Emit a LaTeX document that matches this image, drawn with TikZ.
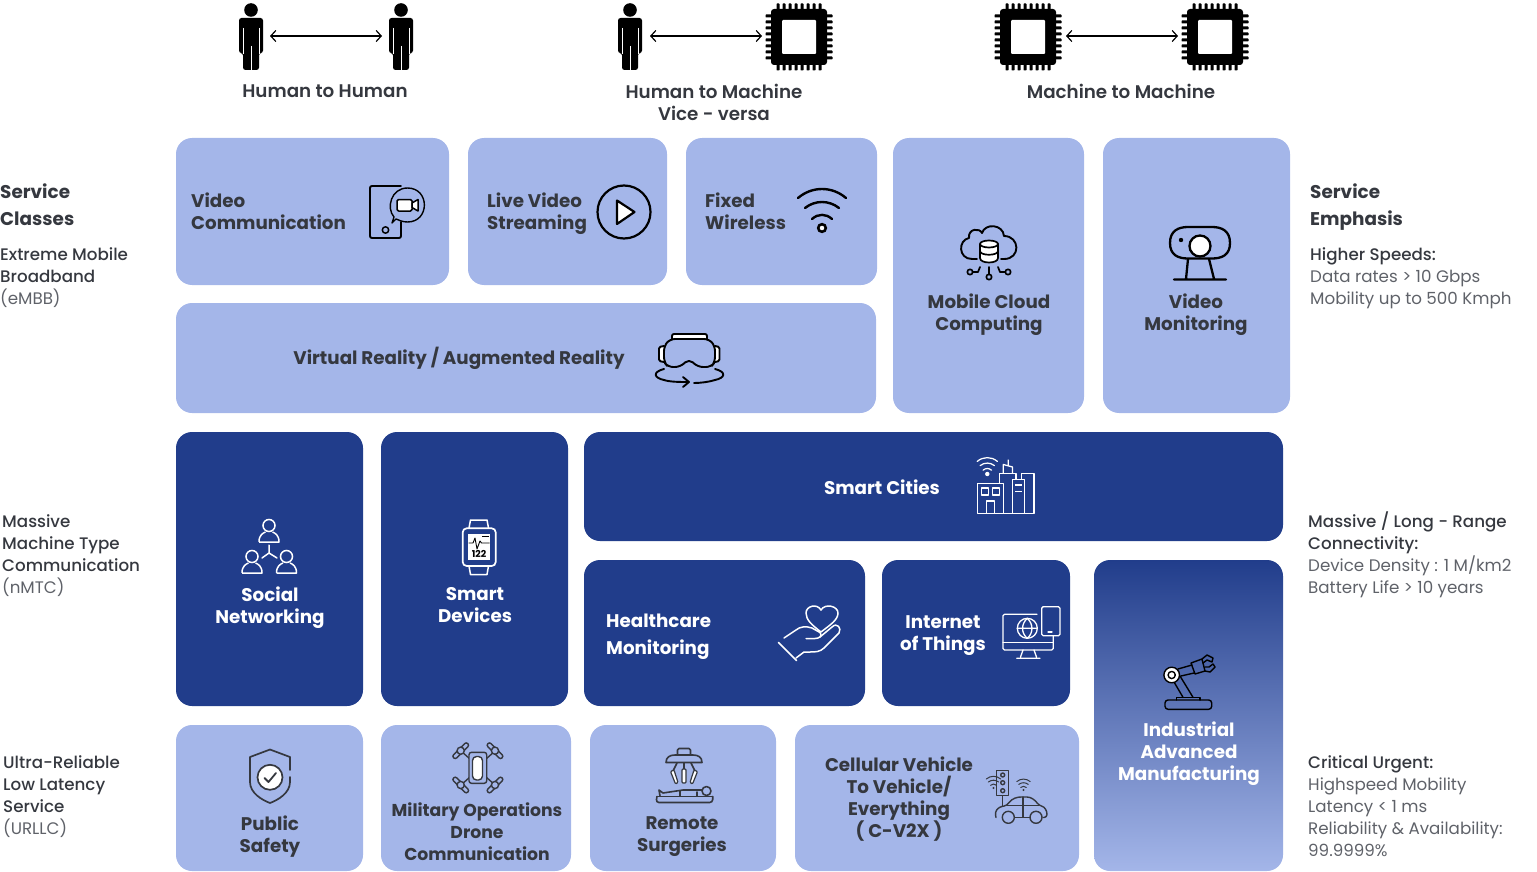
\documentclass[tikz,border=0pt]{standalone}
\usepackage{fontspec}
\setmainfont{Poppins}
\newfontfamily\fsb{Poppins Bold}
\newfontfamily\fmd{Poppins Medium}
\newfontfamily\ftp{Poppins SemiBold}
\newfontfamily\frg{Poppins}
\usetikzlibrary{arrows.meta}
\definecolor{lightb}{HTML}{A4B6E9}
\definecolor{navy}{HTML}{213D8B}
\definecolor{ink}{HTML}{35383F}
\definecolor{greyt}{HTML}{5F6269}
\tikzset{
 cardbase/.style={rectangle,rounded corners=16pt,inner sep=0pt,outer sep=0pt},
 lightcard/.style={cardbase,fill=lightb},
 navycard/.style={cardbase,fill=navy},
 gradcard/.style={cardbase,top color=navy,bottom color=lightb},
 inktxt/.style={text=ink,inner sep=0pt,font=\fsb\fontsize{18.3}{22}\selectfont},
 whitetxt/.style={inktxt,text=white},
 lefttxt/.style={text=ink,inner sep=0pt,align=left,anchor=west,font=\fmd\fontsize{16.7}{22}\selectfont},
 headtxt/.style={text=ink,inner sep=0pt,align=left,anchor=west,font=\fsb\fontsize{18.4}{27}\selectfont},
 toptxt/.style={text=ink,inner sep=0pt,align=center,font=\ftp\fontsize{18.3}{22}\selectfont},
 twoway/.style={draw=black,line width=1.2pt,{Straight Barb[length=5pt,width=11pt]}-{Straight Barb[length=5pt,width=11pt]}},
 ic/.style={line width=1.9pt,line cap=round,line join=round},
}
\newcommand{\card}[6]{%
 \pgfmathsetlengthmacro{\cw}{#4-#2}\pgfmathsetlengthmacro{\ch}{#5-#3}%
 \node[#6,minimum width=\cw,minimum height=\ch] (#1) at ({(#2+#4)/2},{(#3+#5)/2}) {};}
\newcommand{\person}[1]{\begin{scope}[shift={(#1,0)}]
 \fill[black] (0,10) circle (6.8);
 \fill[black,rounded corners=2.5pt] (-12,18)--(12,18)--(12,53)--(8,53)--(8,70)--(-8,70)--(-8,53)--(-12,53)--cycle;
 \draw[white,line width=.5pt] (-8,28)--(-8,54) (8,28)--(8,54) (0,46)--(0,71);
\end{scope}}
\newcommand{\chip}[1]{\begin{scope}[shift={(#1,37)}]
 \foreach \i in {-21,-15,-9,-3,3,9,15,21}{
  \fill[black,rounded corners=.6pt] (\i-1.5,-33.5) rectangle (\i+1.5,33.5);
  \fill[black,rounded corners=.6pt] (-33.5,\i-1.5) rectangle (33.5,\i+1.5);}
 \fill[black,rounded corners=3pt] (-28,-28) rectangle (28,28);
 \fill[white,rounded corners=1pt] (-17,-17) rectangle (17,17);
\end{scope}}
\newcommand{\wifi}[4]{\begin{scope}[shift={(#1,#2)},scale=#3]
 \draw[#4,line width=2pt*#3+.4pt,line cap=round] (-24,-30) .. controls (-10,-42) and (10,-42) .. (24,-30);
 \draw[#4,line width=2pt*#3+.4pt,line cap=round] (-17,-20) .. controls (-7,-28) and (7,-28) .. (17,-20);
 \draw[#4,line width=2pt*#3+.4pt,line cap=round] (-10,-9) .. controls (-4,-14.5) and (4,-14.5) .. (10,-9);
\end{scope}}
\newcommand{\rotor}[3]{\begin{scope}[shift={(#1,#2)},rotate=#3]
 \draw[line width=1.4pt,rounded corners=2pt] (-10,-2.2) rectangle (10,2.2);
 \fill[lightb] (0,0) circle (3.6);
 \draw[line width=1.4pt] (0,0) circle (3.6);
\end{scope}}
\newcommand{\minipers}[2]{\begin{scope}[shift={(#1,#2)}]
 \draw[white,line width=1.5pt] (0,-8.5) circle (6);
 \draw[white,line width=1.5pt,line join=round] (-10,8) .. controls (-10,1) and (-6,-1) .. (-3.5,-2) (3.5,-2) .. controls (6,-1) and (10,1) .. (10,8) -- (-10,8);
\end{scope}}
\begin{document}
\begin{tikzpicture}[x=1pt,y=-1pt]
\useasboundingbox (0,0) rectangle (1537,872);
% top row
\person{251}\person{401}\person{630}
\chip{799}\chip{1028}\chip{1215}
\coordinate (a1) at (270,36);\coordinate (b1) at (382,36);
\coordinate (a2) at (650,36);\coordinate (b2) at (762,36);
\coordinate (a3) at (1066,36);\coordinate (b3) at (1178,36);
\draw[twoway] (a1)--(b1);\draw[twoway] (a2)--(b2);\draw[twoway] (a3)--(b3);
\node[toptxt] (thh) at (325,91) {Human to Human};
\node[toptxt] (thm) at (714,102) {Human to Machine\\Vice - versa};
\node[toptxt] (tmm) at (1121,91) {Machine to Machine};
% cards
\card{cvc}{176}{138}{449}{285}{lightcard}
\card{clv}{468}{138}{667}{285}{lightcard}
\card{cfw}{686}{138}{877}{285}{lightcard}
\card{cmc}{893}{138}{1084}{413}{lightcard}
\card{cvm}{1103}{138}{1290}{413}{lightcard}
\card{cvr}{176}{303}{876}{413}{lightcard}
\card{csn}{176}{432}{363}{706}{navycard}
\card{csd}{381}{432}{568}{706}{navycard}
\card{csc}{584}{432}{1283}{541}{navycard}
\card{chm}{584}{560}{865}{706}{navycard}
\card{cit}{882}{560}{1070}{706}{navycard}
\card{cia}{1094}{560}{1283}{871}{gradcard}
\card{cps}{176}{725}{363}{871}{lightcard}
\card{cmo}{381}{725}{571}{871}{lightcard}
\card{crs}{590}{725}{776}{871}{lightcard}
\card{ccv}{795}{725}{1079}{871}{lightcard}
% card texts
\node[inktxt,align=left,anchor=west] (t1) at (191,211) {Video\\Communication};
\node[inktxt,align=left,anchor=west] (t2) at (487,213.5) {Live Video\\Streaming};
\node[inktxt,align=left,anchor=west] (t3) at (705,211) {Fixed\\Wireless};
\node[inktxt,align=center] (t4) at (989,314.5) {Mobile Cloud\\Computing};
\node[inktxt,align=center] (t5) at (1196,314.5) {Video\\Monitoring};
\node[inktxt] (t6) at (459,358.5) {Virtual Reality / Augmented Reality};
\node[whitetxt,align=center] (t7) at (270,607.5) {Social\\Networking};
\node[whitetxt,align=center] (t8) at (475,605.5) {Smart\\Devices};
\node[whitetxt] (t9) at (882,487) {Smart Cities};
\node[whitetxt,align=left,anchor=west,font=\fsb\fontsize{18.3}{27}\selectfont] (t10) at (606,636.5) {Healthcare\\Monitoring};
\node[whitetxt,align=center] (t11) at (943,635.5) {Internet\\of Things};
\node[whitetxt,align=center] (t12) at (1189,754) {Industrial\\Advanced\\Manufacturing};
\node[inktxt,align=center] (t13) at (270,836.5) {Public\\Safety};
\node[inktxt,align=center,font=\fsb\fontsize{17.2}{22}\selectfont] (t14) at (477,832) {Military Operations\\Drone\\Communication};
\node[inktxt,align=center] (t15) at (682,836.5) {Remote\\Surgeries};
\node[inktxt,align=center] (t16) at (899,799) {Cellular Vehicle\\To Vehicle/\\Everything\\( C-V2X )};
% side texts
\node[headtxt] (l1) at (0,205) {Service\\Classes};
\node[lefttxt] (l2) at (0,278) {Extreme Mobile\\Broadband\\{\frg\color{greyt}(eMBB)}};
\node[lefttxt] (l3) at (2,556) {Massive\\Machine Type\\Communication\\{\frg\color{greyt}(nMTC)}};
\node[lefttxt] (l4) at (3,796.5) {Ultra-Reliable\\Low Latency\\Service\\{\frg\color{greyt}(URLLC)}};
\node[headtxt] (r1) at (1310,207) {Service\\Emphasis};
\node[lefttxt] (r2) at (1310,278) {Higher Speeds:\\{\frg\color{greyt}Data rates > 10 Gbps}\\{\frg\color{greyt}Mobility up to 500 Kmph}};
\node[lefttxt] (r3) at (1308,555) {Massive / Long - Range\\Connectivity:\\{\frg\color{greyt}Device Density : 1 M/km2}\\{\frg\color{greyt}Battery Life > 10 years}};
\node[lefttxt] (r4) at (1308,806) {Critical Urgent:\\{\frg\color{greyt}Highspeed Mobility}\\{\frg\color{greyt}Latency < 1 ms}\\{\frg\color{greyt}Reliability \& Availability:}\\{\frg\color{greyt}99.9999\%}};
% phone + video bubble
\draw[ic,black,rounded corners=2pt] (401,186)--(370,186)--(370,238)--(401,238)--(401,222);
\draw[ic,black,line width=1.5pt] (385.5,230) circle (3.2);
\draw[ic,black,fill=lightb,line width=1.4pt] (394,217) .. controls (386,208) and (391,188) .. (407.5,188) .. controls (430,188) and (430,222) .. (407.5,222) .. controls (402,222) and (399,220) .. (396,219) -- (392,223) -- cycle;
\draw[ic,black,fill=white,rounded corners=1.5pt,line width=1.5pt] (397,199.5) rectangle (412,211);
\draw[ic,black,fill=white,line width=1.5pt] (412,203)--(418,199.5)--(418,211)--(412,207.5)--cycle;
% play
\draw[black,line width=2.2pt] (624,212) circle (26.5);
\draw[black,fill=white,line width=2.2pt,line join=round] (617,200.5)--(617,224)--(634.5,212)--cycle;
% wifi
\wifi{822}{228}{1}{black}
\draw[black,fill=white,line width=2.6pt] (822,228) circle (3.8);
% VR
\draw[ic,black,fill=white,rounded corners=2pt] (672,339)--(672,334)--(707,334)--(707,339);
\draw[ic,black,fill=white,rounded corners=1.5pt] (664,346)--(659,347)--(659,361)--(664,362);
\draw[ic,black,fill=white,rounded corners=1.5pt] (715,346)--(719.5,347)--(719.5,361)--(715,362);
\draw[ic,black,rounded corners=5pt] (670,339)--(709,339)--(715,346)--(715,362)--(711,367)--(698,367)--(689,359)--(680,367)--(668,367)--(664,362)--(664,346)--cycle;
\draw[ic,black] (664,369) .. controls (652,372) and (654,378) .. (664,380) .. controls (670,382) and (680,382) .. (688,382);
\draw[ic,black] (683,377)--(689,382)--(683,387);
\draw[ic,black] (715,369) .. controls (727,372) and (725,378) .. (715,380) .. controls (709,382) and (700,383) .. (694,383);
% cloud
\draw[ic,black] (977,259)--(972,259) .. controls (958,259) and (958,240) .. (969,238) .. controls (968,228) and (980,228) .. (982,233) .. controls (985,223) and (1003,224) .. (1004,236) .. controls (1020,236) and (1021,259) .. (1004,259)--(1001,259);
\draw[ic,black,fill=white,line width=1.7pt] (980,244) -- (980,258) .. controls (980,264) and (998,264) .. (998,258) -- (998,244);
\draw[ic,black,fill=white,line width=1.7pt] (989,244) ellipse (9 and 3.5);
\draw[ic,black,line width=1.7pt] (980,251) .. controls (980,256) and (998,256) .. (998,251);
\draw[ic,black,line width=1.7pt] (970,272) circle (2.7) (989,277) circle (2.7) (1008,272) circle (2.7);
\draw[ic,black,line width=1.7pt] (973,272)--(978,272)--(980,267) (989,274)--(989,267) (1005,272)--(1000,272)--(998,267);
% webcam
\draw[black,line width=2.3pt] (1170,243) .. controls (1170,231) and (1178,227) .. (1188,227) -- (1212,227) .. controls (1222,227) and (1230,231) .. (1230,243) .. controls (1230,255) and (1222,258.5) .. (1212,258.5) -- (1188,258.5) .. controls (1178,258.5) and (1170,255) .. (1170,243) -- cycle;
\draw[black,fill=white,line width=2.3pt] (1200,246) circle (10.5);
\fill[black] (1181,240) circle (2.2);
\draw[black,line width=2.3pt,line cap=round] (1188,259)--(1186,279) (1209,259)--(1214,279) (1174,279.5)--(1226,279.5);
% social
\minipers{269}{534}\minipers{252}{565}\minipers{286.5}{565}
\draw[white,line width=1.5pt,line cap=round] (269,553)--(269,545) (269,553)--(262,558) (269,553)--(277,558);
% watch
\draw[white,line width=1.5pt,line join=round] (469,528)--(470.5,520)--(487,520)--(488.5,528) (469,566)--(470.5,574.5)--(487,574.5)--(488.5,566);
\draw[white,rounded corners=4pt,line width=1.7pt] (462.7,528.3) rectangle (495.7,566);
\fill[white] (468,534) rectangle (490,560);
\draw[black,line width=.9pt,line join=round] (468.5,543)--(473,543)--(475,538)--(477,549)--(480,541)--(481.5,543)--(489.5,543);
\draw[black,line width=1pt] (482,536.5)--(489,536.5);
\node[inner sep=0pt,text=black,font=\fsb\fontsize{9.5}{10}\selectfont] (n122) at (479,554) {122};
% city
\wifi{987.3}{474}{.42}{white}
\fill[white] (987.3,474) circle (2.2);
\begin{scope}[white,line width=1.3pt,line join=round]
\draw (977.7,513.3)--(977.7,483.3)--(1003.3,483.3)--(1003.3,513.3)--cycle;
\draw (981.7,488) rectangle (988.3,495) (992.7,488) rectangle (999.3,495);
\draw (986.7,513.3)--(986.7,501)--(994.7,501)--(994.7,513.3);
\draw (999.3,483)--(999.3,473.3)--(1016,473.3)--(1016,479.3);
\draw (1012.7,513.3)--(1012.7,479.3)--(1024.3,479.3)--(1024.3,513.3);
\draw (1003,513.3)--(1034,513.3)--(1034,473.3)--(1021.7,473.3)--(1021.7,479);
\draw (1015,485)--(1021.7,485) (1015,491.7)--(1021.7,491.7);
\draw (1003.3,473)--(1003.3,464.5)--(1012.5,467)--(1012.5,473) (1008.3,466)--(1008.3,459.5);
\end{scope}
% hand
\begin{scope}[white,line width=1.5pt,line cap=round,line join=round]
\draw (821,632) .. controls (812,625) and (806,620) .. (806,613) .. controls (806,606) and (817,603) .. (821,610) .. controls (825,603) and (838,606) .. (838,613) .. controls (838,620) and (830,625) .. (821,632);
\draw (778.3,642.3)--(796.7,660.7);
\draw (784,638)--(796,630) .. controls (800,626.5) and (806,626) .. (812,628) -- (820,632.5) .. controls (823,636) and (819,638.5) .. (815,638.5) -- (806,638.5);
\draw (820,637)--(832,627) .. controls (837,622) and (842,628) .. (839,633) -- (824,648) .. controls (820,652) and (815,652) .. (810,652) -- (804,652) -- (796,658);
\end{scope}
% iot
\begin{scope}[white,line width=1.3pt,line cap=round,line join=round]
\draw[rounded corners=1.5pt] (1037,614.3)--(1003,614.3)--(1003,650)--(1053.3,650)--(1053.3,636);
\draw (1003,642.7)--(1053.3,642.7);
\draw (1023,650)--(1020.5,657) (1034,650)--(1036.5,657) (1016.7,658.3)--(1040,658.3);
\draw[rounded corners=1.5pt] (1041.7,606.7) rectangle (1060,635.7);
\draw (1048,632)--(1052,632);
\draw (1027.3,628.3) circle (10);
\draw (1017.3,628.3)--(1037.3,628.3) (1027.3,618.3) .. controls (1021,624) and (1021,633) .. (1027.3,638.3) .. controls (1033.5,633) and (1033.5,624) .. (1027.3,618.3);
\end{scope}
% robot
\begin{scope}[black,line width=1.4pt,line cap=round,line join=round]
\draw[rounded corners=3pt] (1165,700) rectangle (1211.7,709.3);
\draw (1176.7,700)--(1176.7,697.3)--(1200,697.3)--(1200,700);
\draw (1174,682)--(1183,697.3) (1180,676)--(1193,697.3);
\draw (1178,669)--(1192,665) (1181,676)--(1194,673);
\draw (1191,663)--(1202,659)--(1205,671)--(1195,674)--cycle;
\draw (1202,659)--(1207,655)--(1213,658)--(1212,662)--(1207,660)--(1203,663);
\draw (1205,671)--(1210,672)--(1215,667)--(1213,664)--(1209,667)--(1205,667);
\fill[white] (1171.7,675) circle (7.8);
\draw (1171.7,675) circle (7.8);
\draw (1171.7,675) circle (3.6);
\end{scope}
% shield
\begin{scope}[ink,line width=1.7pt,line cap=round,line join=round]
\draw (290,770)--(290,757)--(270,749.5)--(250,757)--(250,782) .. controls (250,793) and (262,800) .. (270,803) .. controls (278,800) and (290,793) .. (290,782)--(290,777);
\draw[fill=white] (270,777.3) circle (12.5);
\draw[line width=1.8pt] (264.5,778)--(268.5,782)--(276,773);
\end{scope}
% drone
\begin{scope}[ink]
\draw[line width=1.4pt] (461,751)--(470,759) (495,751)--(486,759) (461,785)--(470,777) (495,785)--(486,777);
\draw[line width=1.4pt,rounded corners=2.5pt,fill=lightb] (469,752.3) rectangle (486.7,783.3);
\draw[line width=1.4pt,rounded corners=4pt,fill=white] (472.5,756.5) rectangle (482.5,780);
\rotor{460.7}{750.7}{45}\rotor{495}{750.7}{-45}\rotor{460.7}{785}{-45}\rotor{495}{785}{45}
\end{scope}
% surgery
\begin{scope}[ink,line width=1.6pt,line cap=round,line join=round]
\draw[rounded corners=1.5pt] (677.5,755)--(677.5,748.5)--(690.5,748.5)--(690.5,755);
\draw (666,762.5) .. controls (666,757) and (670,755) .. (675,755)--(693,755) .. controls (698,755) and (702,757) .. (702,762.5)--cycle;
\draw (684,763)--(684,769) (677,763)--(673,771) (691,763)--(695,771);
\draw[fill=white,line width=1.2pt,rounded corners=1pt] (682,769) rectangle (686,783);
\draw[fill=white,line width=1.2pt,rounded corners=1pt] (670.5,771.5)--(674,770)--(678,782.5)--(675.5,784)--cycle;
\draw[fill=white,line width=1.2pt,rounded corners=1pt] (697.5,771.5)--(694,770)--(690,782.5)--(692.5,784)--cycle;
\draw[rounded corners=3pt] (657,796.5)--(656,802.5)--(712.7,802.5)--(712.7,796.5);
\draw (657,796.5)--(712,796.5);
\draw (659,790)--(663,793)--(683,790)--(702,790) (660,796)--(659,790);
\draw (680,791)--(680,796) (697,792)--(697,796);
\draw[fill=lightb] (706.5,791) circle (4.5);
\end{scope}
% traffic light + car
\begin{scope}[ink,line width=1.4pt,line cap=round,line join=round]
\draw (996.7,770.7) rectangle (1008.3,795.7);
\draw (1002.7,775) circle (2) (1002.7,782.7) circle (2) (1002.7,790.7) circle (2);
\draw (1002.7,795.7)--(1002.7,806);
\draw[rounded corners=3pt] (996,817.5)--(995,812)--(999,807)--(1007,805.5) .. controls (1012,798) and (1018,797) .. (1024,797) .. controls (1031,797) and (1035,800) .. (1039,805.5) .. controls (1045,807) and (1047,811) .. (1047,817.5)--(1043,817.5);
\draw (1015,817.5)--(1029.5,817.5);
\draw (1007,805.5)--(1039,805.5) (1023,797)--(1023,817);
\draw (1008.3,817.3) circle (6) (1036,817.3) circle (6);
\end{scope}
\wifi{993.5}{788}{.3}{ink}
\fill[ink] (993.5,788) circle (1.2);
\wifi{1023.5}{790}{.28}{ink}
\fill[ink] (1023.5,790) circle (1.2);
\end{tikzpicture}
\end{document}
